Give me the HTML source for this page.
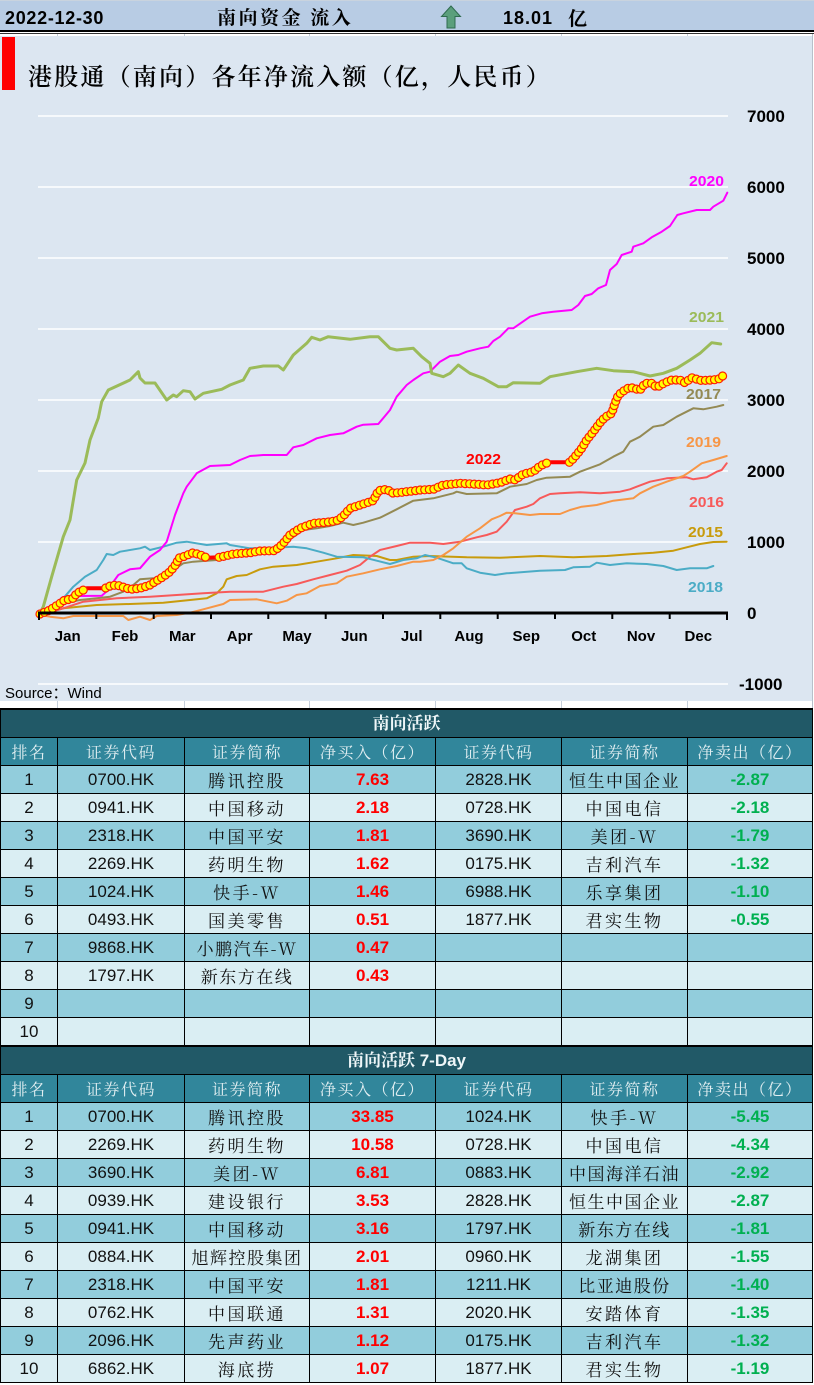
<!DOCTYPE html>
<html><head><meta charset="utf-8">
<style>
html,body{margin:0;padding:0;background:#fff;}
body{width:814px;height:1385px;position:relative;overflow:hidden;font-family:"Liberation Sans","Noto Serif CJK SC",serif;}
svg{position:absolute;left:0;top:0;}
.tbl{position:absolute;left:0;width:813px;display:grid;grid-template-columns:57px 127px 125px 126px 126px 126px 125px;grid-auto-rows:28px;border-top:2px solid #000;border-left:1px solid #000;box-sizing:border-box;}
.tbl .r{display:contents;}
.tbl .c{border-right:1px solid #000;border-bottom:1px solid #000;box-sizing:border-box;text-align:center;line-height:28px;font-size:17px;color:#111;white-space:nowrap;overflow:hidden;}
.tbl .tt{grid-column:1/8;background:#215967;color:#eef6f8;font-weight:bold;font-size:17px;}
.tbl .th .c{background:#31869b;color:#e2eff2;font-family:"Noto Serif CJK SC",serif;font-size:16px;letter-spacing:1.5px;}
.tbl .a .c{background:#92cddc;}
.tbl .b .c{background:#daeef3;}
.tbl .n{font-family:"Noto Serif CJK SC",serif;letter-spacing:2.5px;}
.tbl .n6{font-family:"Noto Serif CJK SC",serif;letter-spacing:1.5px;}
.tbl .p{color:#ff0000;font-weight:bold;}
.tbl .m{color:#00b050;font-weight:bold;}
</style></head>
<body>
<svg width="814" height="708" viewBox="0 0 814 708" xmlns="http://www.w3.org/2000/svg">
  <rect x="0" y="0" width="814" height="30" fill="#b8cce4"/>
  <rect x="0" y="0" width="814" height="1" fill="#c9d3de"/>
  <rect x="0" y="30" width="814" height="2" fill="#000"/>
  <rect x="0" y="33" width="814" height="1" fill="#333"/>
  <g stroke="#c6cfdb" stroke-width="1">
    <line x1="57.5" y1="34" x2="57.5" y2="36"/><line x1="184.5" y1="34" x2="184.5" y2="36"/>
    <line x1="309.5" y1="34" x2="309.5" y2="36"/><line x1="435.5" y1="34" x2="435.5" y2="36"/>
    <line x1="561.5" y1="34" x2="561.5" y2="36"/><line x1="687.5" y1="34" x2="687.5" y2="36"/>
  </g>
  <text x="5" y="24" font-family="Liberation Sans" font-weight="bold" font-size="18" letter-spacing="0.7" fill="#000">2022-12-30</text>
  <text x="217" y="24" font-family="'Noto Serif CJK SC',serif" font-weight="bold" font-size="19" letter-spacing="2.5" fill="#000">南向资金 流入</text>
  <polygon points="451,6 441.5,16.5 447,16.5 447,28 455,28 455,16.5 460.5,16.5" fill="#5b9f7c" stroke="#2f6b4f" stroke-width="1"/>
  <text x="503" y="24" font-family="Liberation Sans" font-weight="bold" font-size="18" letter-spacing="1" fill="#000">18.01</text>
  <text x="568" y="25" font-family="'Noto Serif CJK SC',serif" font-weight="bold" font-size="19" fill="#000">亿</text>

  <rect x="0" y="36" width="812" height="665" fill="#dce6f1"/>
  <line x1="812.5" y1="34" x2="812.5" y2="708" stroke="#b8c0ca" stroke-width="1"/>
  <g stroke="#c6cfdb" stroke-width="1">
    <line x1="57.5" y1="701" x2="57.5" y2="708"/><line x1="184.5" y1="701" x2="184.5" y2="708"/>
    <line x1="309.5" y1="701" x2="309.5" y2="708"/><line x1="435.5" y1="701" x2="435.5" y2="708"/>
    <line x1="561.5" y1="701" x2="561.5" y2="708"/><line x1="687.5" y1="701" x2="687.5" y2="708"/>
  </g>
  <rect x="2" y="37" width="13" height="53" fill="#ff0000"/>
  <text x="28" y="85" font-family="'Noto Serif CJK SC',serif" font-weight="600" font-size="24" letter-spacing="2.2" fill="#000">港股通（南向）各年净流入额（亿，人民币）</text>

  <g stroke="#ffffff" stroke-width="1.5">
    <line x1="38" y1="116" x2="728" y2="116"/>
    <line x1="38" y1="187" x2="728" y2="187"/>
    <line x1="38" y1="258" x2="728" y2="258"/>
    <line x1="38" y1="329" x2="728" y2="329"/>
    <line x1="38" y1="400" x2="728" y2="400"/>
    <line x1="38" y1="471" x2="728" y2="471"/>
    <line x1="38" y1="542" x2="728" y2="542"/>
    <line x1="38" y1="684" x2="728" y2="684"/>
  </g>

  <g font-family="Liberation Sans" font-weight="bold" font-size="17" fill="#000">
    <text x="747" y="122">7000</text>
    <text x="747" y="193">6000</text>
    <text x="747" y="264">5000</text>
    <text x="747" y="335">4000</text>
    <text x="747" y="406">3000</text>
    <text x="747" y="477">2000</text>
    <text x="747" y="548">1000</text>
    <text x="747" y="619">0</text>
    <text x="739" y="690">-1000</text>
  </g>

  <g fill="none" stroke-linejoin="round" stroke-linecap="round">
    <polyline stroke="#c89b0c" stroke-width="2" points="40,615 63.3,608.3 96.7,605 130,604 163.3,602.7 190,600 206.7,598.3 216.7,593.3 223.3,586.7 226.7,579.3 236.7,576 246.7,575 260,569.3 273.3,566.7 296.7,565 316.7,561.7 336.7,558.3 353.3,555 376.7,556 390,560 396.7,560 413.3,556.7 430,556 466.7,557.3 500,557.7 540,556 573.3,557.3 606.7,556 633.3,554 653.3,552.7 673.3,550.7 686.7,547.3 700,544 713.3,542 726.7,541.7"/>
    <polyline stroke="#f75a5a" stroke-width="2" points="40,615 63.3,608.3 83.3,601.7 116.7,598.3 150,596.7 176.7,595 203.3,593.3 230,591.7 263.3,591.7 283.3,586.7 296.7,584 313.3,579.3 330,575 346.7,570.7 360,565 370,556.7 380,550 396.7,546 410,542.7 430,542.7 443.3,544 460,541.7 476.7,537.3 486.7,535 496.7,531.7 506.7,521.7 515,510 526.7,506.7 533.3,504 540,498.3 550,494 560,493.3 580,492.3 600,493.3 620,491.7 630,489.3 636.7,486.7 650,481.7 666.7,478.3 686.7,477.3 693.3,479.3 706.7,477.3 716.7,471.7 721.7,470 726.7,463.3"/>
    <polyline stroke="#948a54" stroke-width="2" points="40,615 63.3,603.3 80,600 96.7,598.3 110,596.7 123.3,591.7 133.3,585 140,579.3 153.3,578.3 163.3,576.7 173.3,570 183.3,563.3 193.3,561.7 216.7,560 236.7,555 263.3,551.7 276.7,550 290,539.3 303.3,530 316.7,528.3 330,526 343.3,522.7 353.3,525 363.3,522.7 380,517.7 396.7,509.3 413.3,500.7 433.3,498.3 453.3,493.3 456.7,491.7 466.7,494 496.7,493.3 510,486.7 526.7,484 536.7,480 546.7,477.7 570,476.7 580,471.7 600,464.3 613.3,456.7 623.3,451.7 630,441.7 640,436.7 653.3,426.7 663.3,425 676.7,416.7 693.3,408.3 703.3,409.3 716.7,406.7 723.3,405"/>
    <polyline stroke="#4bacc6" stroke-width="2" points="40,615 53.3,606.7 63.3,598.3 73.3,586.7 85,576.7 96.7,570 103.3,560 106.7,554 113.3,555 120,551.7 140,548.3 145,546.7 150,550 163.3,546.7 176.7,542.7 186.7,541.7 206.7,545 226.7,543.3 230,545 250,548.3 263.3,548.3 283.3,547.3 293.3,546.7 306.7,548.3 323.3,552.7 336.7,556.7 363.3,557.3 390,564 403.3,560 416.7,558.3 425,555 436.7,557.7 453.3,563.3 461.7,563.3 466.7,568.3 480,572.7 495,575 506.7,573.3 540,570.7 565,570 573.3,567.3 590,566.7 596.7,562.7 610,565 626.7,563.3 646.7,564 663.3,566 676.7,570 690,568.3 706.7,568.3 713.3,566"/>
    <polyline stroke="#f79646" stroke-width="2" points="40,615 50,616.7 63.3,618.3 73.3,616 96.7,616 123.3,616 128.3,620 140,616.7 150,620 156.7,616 176.7,615 190,612.7 203.3,609.3 223.3,604 230,600 256.7,599.3 276.7,603.3 286.7,600.7 296.7,595 306.7,593.3 320,586 336.7,583.3 346.7,576.7 363.3,573.3 380,569.3 396.7,566 413.3,561.7 420,561.7 433.3,560 443.3,555 453.3,548.3 466.7,536.7 480,528.3 491.7,519.3 500,516 506.7,512.7 515,513.3 530,515 540,514 560,514 570,510 581.7,506.7 596.7,505 613.3,500.7 633.3,498.3 640,493.3 653.3,486.7 666.7,481.7 683.3,476 690,471.7 701.7,463.3 713.3,460 726.7,456"/>
    <polyline stroke="#ff00ff" stroke-width="2" points="40,614 50,608 63,597 80,596 101.7,595.7 106,592 118.3,575 130,569.3 140,568.3 150,556.7 160,550 166.7,541.7 175,515 183.3,493.3 186.7,486.7 196.7,473.3 210,466 230,465 240,460 250,456 263.3,455 286.7,455 293.3,447.3 303.3,445 316.7,438.3 330,435 343.3,433.3 356.7,426.7 363.3,424.7 378.3,424 390,410 396.7,396.7 406.7,385 413.3,380 423.3,373.3 430,371.7 440,361.7 450,356 458.3,355 466.7,351.7 480,348.3 488.3,346.7 493.3,341 500,336.7 508.3,328.3 513.3,328.3 530,316.7 541.7,313.3 553.3,311.7 571.7,310 578.3,305 585,296 591.7,294 598.3,288.3 606,285 610,270 616.7,264 621.7,255 631.7,251.7 633.3,246.7 643.3,243.3 651.7,237.3 661.7,231.7 670,226 677.3,215 683.3,213.3 696.7,210 710,210 713.3,206.7 723.3,200.7 727.3,192.7"/>
    <polyline stroke="#9bbb59" stroke-width="3" points="40,613 43.3,606.7 51.7,576.7 63.3,536.7 70,520 76.7,480 85,463 90,440 98.3,418 101.7,401.7 108.3,390 130,380 138.3,371.7 140,378 145,383 155,383 166.7,400 173.3,395 176.7,396.7 183.3,390.7 190,391.7 195,399 203.3,393.3 221.7,389.3 230,385 243.3,380 250,368.3 263.3,366 278.3,366 283.3,370 293.3,355 306.7,343.3 311.7,337.3 320,340 328.3,336.7 350,339.3 370,336.7 378.3,336.7 390,348.3 396.7,350 413.3,348.3 421.7,356.7 430,363.3 431.7,373.3 443.3,376.7 450,373.3 458.3,365 470,373.3 483.3,378.3 498.3,386.7 506.7,386.7 513.3,382.7 540,383.3 550,376.7 576.7,371.7 596.7,368.3 613.3,370.7 633.3,371.7 650,376 663.3,373.3 676.7,368.3 690,360 700,353.3 711.7,342.7 720.7,344"/>
    <polyline id="l22" stroke="#ff0000" stroke-width="4" points="40,614 41.7,613.3 50,610 60,603.3 63.3,600.7 73.3,598.3 76.7,593.3 86.7,588.3 105,588.3 110,586 116.7,585 130,589.3 140,588.3 150,585 156.7,580.7 163.3,576.7 170,571.7 176.7,563.3 178.3,558.3 183.3,556.7 193.3,552.7 203.3,556 206.7,557.7 220,557.3 233.3,554 250,552.7 260,551 275,550.7 283.3,543.3 290,535 300,528.3 313.3,523.3 326.7,522.3 336.7,520.7 343.3,516 350,508.3 363.3,504 373.3,500.7 378.3,490.7 386.7,489.3 393.3,493.3 406.7,491.7 420,490 433.3,489.3 443.3,485 460,483.3 473.3,484 486.7,485 500,482.7 510,479 515,480 523.3,474 533.3,471.7 540,466 548.3,462.3 570,462.3 575,456.7 581.7,448.3 586.7,440 593.3,431.7 600,422.7 605,417.3 611.7,413.3 615,403.3 618.3,395 625,390 630,387.3 640,390 645,383.3 651.7,383.3 656.7,387.3 665,382.7 671.7,380 680,380 685,382.7 691.7,377.7 701.7,380.7 711.7,380 718.3,379.3 724,375"/>
  </g>
  <g id="mk" fill="#ffff00" stroke="#ff2000" stroke-width="1.2"></g>

  <line x1="38" y1="613" x2="728" y2="613" stroke="#000" stroke-width="3"/>
  <g stroke="#000" stroke-width="2">
    <line x1="39" y1="613" x2="39" y2="620"/><line x1="96.3" y1="613" x2="96.3" y2="619"/>
    <line x1="153.7" y1="613" x2="153.7" y2="619"/><line x1="211" y1="613" x2="211" y2="619"/>
    <line x1="268.3" y1="613" x2="268.3" y2="619"/><line x1="325.7" y1="613" x2="325.7" y2="619"/>
    <line x1="383" y1="613" x2="383" y2="619"/><line x1="440.3" y1="613" x2="440.3" y2="619"/>
    <line x1="497.7" y1="613" x2="497.7" y2="619"/><line x1="555" y1="613" x2="555" y2="619"/>
    <line x1="612.3" y1="613" x2="612.3" y2="619"/><line x1="669.7" y1="613" x2="669.7" y2="619"/>
    <line x1="727" y1="613" x2="727" y2="620"/>
  </g>
  <g font-family="Liberation Sans" font-weight="bold" font-size="15" fill="#000" text-anchor="middle">
    <text x="67.7" y="641">Jan</text><text x="125" y="641">Feb</text><text x="182.3" y="641">Mar</text>
    <text x="239.7" y="641">Apr</text><text x="297" y="641">May</text><text x="354.3" y="641">Jun</text>
    <text x="411.7" y="641">Jul</text><text x="469" y="641">Aug</text><text x="526.3" y="641">Sep</text>
    <text x="583.7" y="641">Oct</text><text x="641" y="641">Nov</text><text x="698.3" y="641">Dec</text>
  </g>

  <g font-family="Liberation Sans" font-weight="bold" font-size="15">
    <text x="689" y="186" fill="#ff00ff" textLength="35" lengthAdjust="spacingAndGlyphs">2020</text>
    <text x="689" y="322" fill="#9bbb59" textLength="35" lengthAdjust="spacingAndGlyphs">2021</text>
    <text x="686" y="399" fill="#948a54" textLength="35" lengthAdjust="spacingAndGlyphs">2017</text>
    <text x="466" y="464" fill="#ff0000" textLength="35" lengthAdjust="spacingAndGlyphs">2022</text>
    <text x="686" y="447" fill="#f79646" textLength="35" lengthAdjust="spacingAndGlyphs">2019</text>
    <text x="689" y="507" fill="#f75a5a" textLength="35" lengthAdjust="spacingAndGlyphs">2016</text>
    <text x="688" y="537" fill="#c89b0c" textLength="35" lengthAdjust="spacingAndGlyphs">2015</text>
    <text x="688" y="592" fill="#4bacc6" textLength="35" lengthAdjust="spacingAndGlyphs">2018</text>
  </g>

  <text x="5" y="698" font-family="'Liberation Sans','Noto Sans CJK SC',sans-serif" font-size="15" fill="#000">Source：Wind</text>
</svg>

<div class="tbl" style="top:708px;">
  <div class="c tt">南向活跃</div>
  <div class="r th"><div class="c">排名</div><div class="c">证券代码</div><div class="c">证券简称</div><div class="c">净买入（亿）</div><div class="c">证券代码</div><div class="c">证券简称</div><div class="c">净卖出（亿）</div></div>
  <div class="r a"><div class="c">1</div><div class="c">0700.HK</div><div class="c n">腾讯控股</div><div class="c p">7.63</div><div class="c">2828.HK</div><div class="c n6">恒生中国企业</div><div class="c m">-2.87</div></div>
  <div class="r b"><div class="c">2</div><div class="c">0941.HK</div><div class="c n">中国移动</div><div class="c p">2.18</div><div class="c">0728.HK</div><div class="c n">中国电信</div><div class="c m">-2.18</div></div>
  <div class="r a"><div class="c">3</div><div class="c">2318.HK</div><div class="c n">中国平安</div><div class="c p">1.81</div><div class="c">3690.HK</div><div class="c n">美团-W</div><div class="c m">-1.79</div></div>
  <div class="r b"><div class="c">4</div><div class="c">2269.HK</div><div class="c n">药明生物</div><div class="c p">1.62</div><div class="c">0175.HK</div><div class="c n">吉利汽车</div><div class="c m">-1.32</div></div>
  <div class="r a"><div class="c">5</div><div class="c">1024.HK</div><div class="c n">快手-W</div><div class="c p">1.46</div><div class="c">6988.HK</div><div class="c n">乐享集团</div><div class="c m">-1.10</div></div>
  <div class="r b"><div class="c">6</div><div class="c">0493.HK</div><div class="c n">国美零售</div><div class="c p">0.51</div><div class="c">1877.HK</div><div class="c n">君实生物</div><div class="c m">-0.55</div></div>
  <div class="r a"><div class="c">7</div><div class="c">9868.HK</div><div class="c n6">小鹏汽车-W</div><div class="c p">0.47</div><div class="c"></div><div class="c"></div><div class="c"></div></div>
  <div class="r b"><div class="c">8</div><div class="c">1797.HK</div><div class="c n6">新东方在线</div><div class="c p">0.43</div><div class="c"></div><div class="c"></div><div class="c"></div></div>
  <div class="r a"><div class="c">9</div><div class="c"></div><div class="c"></div><div class="c"></div><div class="c"></div><div class="c"></div><div class="c"></div></div>
  <div class="r b"><div class="c">10</div><div class="c"></div><div class="c"></div><div class="c"></div><div class="c"></div><div class="c"></div><div class="c"></div></div>
</div>

<div class="tbl" style="top:1045px;">
  <div class="c tt">南向活跃 7-Day</div>
  <div class="r th"><div class="c">排名</div><div class="c">证券代码</div><div class="c">证券简称</div><div class="c">净买入（亿）</div><div class="c">证券代码</div><div class="c">证券简称</div><div class="c">净卖出（亿）</div></div>
  <div class="r a"><div class="c">1</div><div class="c">0700.HK</div><div class="c n">腾讯控股</div><div class="c p">33.85</div><div class="c">1024.HK</div><div class="c n">快手-W</div><div class="c m">-5.45</div></div>
  <div class="r b"><div class="c">2</div><div class="c">2269.HK</div><div class="c n">药明生物</div><div class="c p">10.58</div><div class="c">0728.HK</div><div class="c n">中国电信</div><div class="c m">-4.34</div></div>
  <div class="r a"><div class="c">3</div><div class="c">3690.HK</div><div class="c n">美团-W</div><div class="c p">6.81</div><div class="c">0883.HK</div><div class="c n6">中国海洋石油</div><div class="c m">-2.92</div></div>
  <div class="r b"><div class="c">4</div><div class="c">0939.HK</div><div class="c n">建设银行</div><div class="c p">3.53</div><div class="c">2828.HK</div><div class="c n6">恒生中国企业</div><div class="c m">-2.87</div></div>
  <div class="r a"><div class="c">5</div><div class="c">0941.HK</div><div class="c n">中国移动</div><div class="c p">3.16</div><div class="c">1797.HK</div><div class="c n6">新东方在线</div><div class="c m">-1.81</div></div>
  <div class="r b"><div class="c">6</div><div class="c">0884.HK</div><div class="c n6">旭辉控股集团</div><div class="c p">2.01</div><div class="c">0960.HK</div><div class="c n">龙湖集团</div><div class="c m">-1.55</div></div>
  <div class="r a"><div class="c">7</div><div class="c">2318.HK</div><div class="c n">中国平安</div><div class="c p">1.81</div><div class="c">1211.HK</div><div class="c n6">比亚迪股份</div><div class="c m">-1.40</div></div>
  <div class="r b"><div class="c">8</div><div class="c">0762.HK</div><div class="c n">中国联通</div><div class="c p">1.31</div><div class="c">2020.HK</div><div class="c n">安踏体育</div><div class="c m">-1.35</div></div>
  <div class="r a"><div class="c">9</div><div class="c">2096.HK</div><div class="c n">先声药业</div><div class="c p">1.12</div><div class="c">0175.HK</div><div class="c n">吉利汽车</div><div class="c m">-1.32</div></div>
  <div class="r b"><div class="c">10</div><div class="c">6862.HK</div><div class="c n">海底捞</div><div class="c p">1.07</div><div class="c">1877.HK</div><div class="c n">君实生物</div><div class="c m">-1.19</div></div>
</div>

<script>
(function(){
  var el=document.getElementById('l22');
  var s=el.getAttribute('points').trim().split(/\s+/).map(function(p){return p.split(',').map(Number);});
  var g=document.getElementById('mk');
  var step=4.6, need=0, html='';
  var gaps=[[86,105],[207,219],[549,569]];
  function ok(x){for(var k=0;k<gaps.length;k++){if(x>gaps[k][0]&&x<gaps[k][1])return false;}return true;}
  for(var i=1;i<s.length;i++){
    var x0=s[i-1][0],y0=s[i-1][1],x1=s[i][0],y1=s[i][1];
    var L=Math.sqrt((x1-x0)*(x1-x0)+(y1-y0)*(y1-y0));
    var t=need;
    while(t<=L){
      var x=x0+(x1-x0)*t/L,y=y0+(y1-y0)*t/L;
      if(ok(x))html+='<circle cx="'+x.toFixed(1)+'" cy="'+y.toFixed(1)+'" r="4"/>';
      t+=step;
    }
    need=t-L;
  }
  g.innerHTML=html;
})();
</script>
</body></html>
